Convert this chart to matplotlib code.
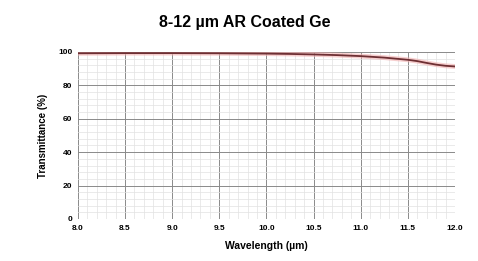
import matplotlib.pyplot as plt
from matplotlib.ticker import MultipleLocator

plt.rcParams["font.family"] = ["Liberation Sans", "DejaVu Sans"]

# Transmission curve
wavelength = [8.0, 8.5, 9.0, 9.5, 10.0, 10.25, 10.5, 10.75, 11.0, 11.25, 11.5, 11.6, 11.7, 11.8, 11.9, 12.0]
transmittance = [99.2, 99.3, 99.3, 99.2, 99.0, 98.8, 98.5, 98.1, 97.5, 96.6, 95.3, 94.5, 93.4, 92.4, 91.7, 91.3]

x_ticks = [8.0, 8.5, 9.0, 9.5, 10.0, 10.5, 11.0, 11.5, 12.0]
y_ticks = [0, 20, 40, 60, 80, 100]

fig = plt.figure(figsize=(4.78, 2.61), dpi=100)
ax = fig.add_axes([0.163, 0.161, 0.789, 0.640])

ax.plot(wavelength, transmittance, color="#f3b0b0", lw=3.5, alpha=0.6)
ax.plot(wavelength, transmittance, color="#6e2f33", lw=1.3)

ax.set_xlim(8.0, 12.0)
ax.set_ylim(0, 100)
ax.set_xticks(x_ticks)
ax.set_xticklabels([f"{v:.1f}" for v in x_ticks])
ax.set_yticks(y_ticks)
ax.xaxis.set_minor_locator(MultipleLocator(0.1))
ax.yaxis.set_minor_locator(MultipleLocator(4))
ax.grid(which="major", color="#8a8a8a", lw=0.7)
ax.grid(which="minor", color="#e2e2e2", lw=0.5)
ax.tick_params(which="both", length=0, labelsize=6, pad=4)
for lbl in ax.get_xticklabels() + ax.get_yticklabels():
    lbl.set_fontweight("bold")
for s in ax.spines.values():
    s.set_visible(False)

fig.suptitle("8-12 µm AR Coated Ge", x=0.513, y=0.915, va="center",
             fontsize=11.5, fontweight="bold")
ax.set_xlabel("Wavelength (µm)", fontsize=7.5, fontweight="bold", labelpad=7)
ax.set_ylabel("Transmittance (%)", fontsize=7, fontweight="bold", labelpad=7)

fig.savefig("out.png", dpi=100)
